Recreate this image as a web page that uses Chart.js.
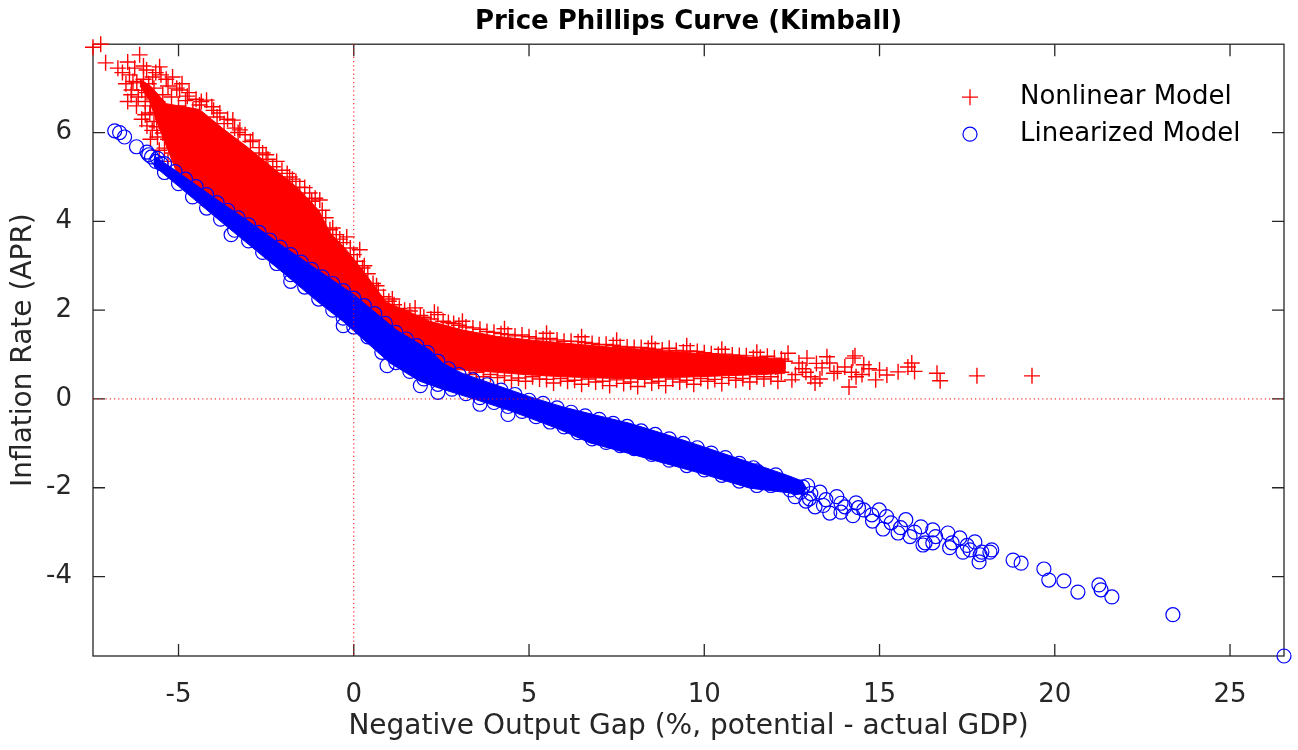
<!DOCTYPE html>
<html>
<head>
<meta charset="utf-8">
<title>Price Phillips Curve (Kimball)</title>
<script src="https://cdn.jsdelivr.net/npm/chart.js@4.4.1/dist/chart.umd.min.js"></script>
<style>
  html, body { margin: 0; padding: 0; background: #fff; }
  #wrap { width: 1298px; height: 750px; }
</style>
</head>
<body>
<div id="wrap"><canvas id="phillips" width="1298" height="750"></canvas></div>
<script>
// --- valeurs ---
const chartTitle = 'Price Phillips Curve (Kimball)';
const xLabel = 'Negative Output Gap (%, potential - actual GDP)';
const yLabel = 'Inflation Rate (APR)';
const seriesNames = ['Nonlinear Model', 'Linearized Model'];

const xTicks = [-5, 0, 5, 10, 15, 20, 25];
const yTicks = [-4, -2, 0, 2, 4, 6];
const xRange = [-7.44, 26.54];
const yRange = [-5.79, 7.99];

// zone pleine ou les + rouges se recouvrent (contour haut puis bas)
const nonlinearCore = [
  [-6.1,7.2],[-5.8,7.05],[-5.35,6.65],[-4.4,6.52],[-3.75,6.1],[-3.0,5.65],[-2.3,5.2],[-1.6,4.75],
  [-1.0,4.25],[-0.68,3.75],[-0.2,3.35],[0.27,2.88],[0.93,2.18],[1.7,1.92],[2.17,1.75],[3.12,1.55],
  [4.07,1.41],[5.02,1.33],[6.93,1.19],[8.83,1.08],[10.73,0.97],[12.3,0.88],
  [12.3,0.58],[11.67,0.55],[9.78,0.5],[7.88,0.45],[5.97,0.5],[5.02,0.54],[4.07,0.6],[3.12,0.65],
  [2.5,0.7],[1.5,1.2],[0,2.0],[-2,3.2],[-4,4.4],[-5,5.0],[-5.5,6.0],[-5.85,6.75],[-6.1,7.05]
];

// zone pleine des cercles bleus
const linearizedCore = [
  [-5.7,5.48],[-5,5.1],[-4,4.54],[-3,4.0],[-2,3.43],[-1,2.89],[0,2.35],[1.22,1.55],[2.17,1.1],
  [2.55,0.8],[3.12,0.57],[4.07,0.31],[5.02,0.05],[5.97,-0.18],[6.93,-0.37],[7.88,-0.55],
  [8.83,-0.78],[9.8,-1.03],[11.0,-1.35],[12.3,-1.7],[12.8,-1.85],
  [12.9,-2.0],[12.8,-2.15],[11.3,-2.01],[9.87,-1.67],[8.0,-1.26],[6.74,-0.99],[5.88,-0.69],
  [5.02,-0.43],[4.36,-0.24],[3.5,-0.02],[2.45,0.24],[1.88,0.4],[1.03,0.81],[-0.31,1.75],
  [-1,2.17],[-2,2.83],[-3,3.48],[-4,4.13],[-5,4.79],[-5.7,5.25]
];

// points isoles / bords du nuage (Nonlinear Model)
const nonlinearPts = [
  [-7.44,7.92],[-7.22,7.99],[-7.08,7.57],[-6.73,7.45],[-6.45,7.59],[-6.11,7.75],[-5.91,7.41],
  [-6.19,7.12],[-6.34,6.96],[-5.74,7.25],[-5.54,7.48],[-5.17,7.25],[-4.97,6.96],[-5.82,6.44],
  [-5.62,6.13],[-5.45,5.99],[-5.17,5.54],[-5.05,5.77],[-4.2,6.73],[-3.82,6.44],[-3.25,6.06],
  [-2.88,5.83],[-2.6,5.54],[-1.83,5.0],[-0.97,4.48],[-0.2,3.65],[0.17,3.36],[-0.68,3.81],
  [-4.59,6.51],[-3.45,6.28],[-2.31,5.23],[-1.54,4.77],[-1.26,4.64],
  [-6.4,7.3],[-6.25,7.45],[-6.0,7.2],[-5.9,6.9],[-5.7,7.0],[-5.6,6.7],[-5.8,6.6],[-5.5,7.3],
  [-5.3,7.05],[-5.2,6.8],[-5.4,6.3],[-5.1,6.2],[-5.3,5.85],[-4.9,7.1],[-4.7,6.9],[-4.5,6.75],
  [-6.05,6.95],[-5.95,6.7],[-5.65,6.45],[-5.5,6.6],[-5.35,6.1],[-5.25,6.45],[-6.3,7.15],
  [-5.85,7.1],[-5.45,6.85],[-5.0,6.6],[-4.85,6.4],[-5.6,5.9],[-5.7,6.25],
  [-6.5,7.1],[-6.15,6.8],[-5.95,6.4],[-5.75,6.05],[-5.4,5.65],[-6.6,7.35],[-6.0,7.5],[-5.65,7.35],
  [-5.35,7.2],[-5.05,7.0],[-4.75,6.82],[-4.35,6.7],[-4.05,6.58],
  [-6.35,6.85],[-6.2,6.6],[-6.05,6.3],[-5.9,6.15],[-5.8,5.85],[-5.55,5.6],[-5.3,5.35],[-6.45,6.7],
  [-4.8,6.72],[-4.4,6.62],[-4.0,6.5],[-3.6,6.3],[-3.1,5.95],[-2.7,5.66],[-2.2,5.35],[-1.9,5.08],
  [-1.4,4.76],[-1.1,4.52],[-0.8,4.08],[-0.5,3.7],[-0.3,3.52],[0.1,3.1],[0.4,2.82],[0.7,2.45],
  [1.0,2.2],[1.3,2.04],[1.6,1.98],[1.9,1.88],[2.2,1.8],[2.4,1.9],[2.7,1.72],[3.0,1.66],
  [3.4,1.6],[3.8,1.52],[4.2,1.47],[4.6,1.42],[5.0,1.4],[5.4,1.35],[5.8,1.33],[6.2,1.3],
  [6.6,1.27],[7.0,1.22],[7.4,1.21],[7.8,1.17],[8.2,1.16],[8.6,1.12],[9.0,1.14],[9.4,1.06],
  [9.8,1.07],[10.2,1.02],[10.6,1.01],[11.0,0.98],[11.4,0.93],[11.8,0.96],[12.2,0.9],
  [-3.9,6.35],[-3.3,6.0],[-2.5,5.5],[-2.05,5.15],[-1.65,4.9],[-0.9,4.25],[-0.4,3.6],[0.0,3.25],
  [0.25,2.95],[0.55,2.6],[0.85,2.3],[1.15,2.12],[1.45,2.0],[2.0,1.84],[2.55,1.75],[2.85,1.7],
  [3.2,1.62],[3.6,1.57],[4.0,1.5],[4.4,1.45],[4.8,1.44],[5.2,1.37],[5.6,1.36],[6.0,1.3],
  [6.4,1.29],[6.8,1.25],[7.2,1.23],[7.6,1.18],[8.0,1.16],[8.4,1.14],[8.8,1.1],[9.2,1.09],
  [9.6,1.08],[10.0,1.04],[10.4,1.0],[10.8,0.99],[11.2,0.97],[11.6,0.94],[12.0,0.92],
  [-3.7,6.2],[-3.4,6.1],[-2.95,5.8],[-2.45,5.4],[-1.75,4.95],[-1.2,4.45],[-0.6,3.85],[-0.1,3.4],
  [0.3,3.0],[0.65,2.55],[1.1,2.25],[1.75,2.05],[2.3,1.95],[3.1,1.75],[4.3,1.58],[5.5,1.48],
  [6.5,1.4],[7.5,1.32],[8.5,1.25],[9.5,1.2],[10.5,1.12],[11.5,1.05],
  [3.3,0.55],[3.7,0.5],[4.1,0.48],[4.5,0.42],[4.9,0.4],[5.3,0.45],[5.7,0.36],[6.1,0.4],
  [6.5,0.33],[6.9,0.38],[7.3,0.3],[7.7,0.35],[8.1,0.28],[8.5,0.36],[8.9,0.3],[9.3,0.38],
  [9.7,0.33],[10.1,0.4],[10.5,0.35],[10.9,0.42],[11.3,0.38],[11.7,0.45],[12.1,0.4],
  [3.5,0.6],[3.9,0.55],[4.3,0.52],[4.7,0.47],[5.1,0.5],[5.5,0.44],[5.9,0.46],[6.3,0.42],
  [6.7,0.45],[7.1,0.4],[7.5,0.43],[7.9,0.38],[8.3,0.44],[8.7,0.4],[9.1,0.45],[9.5,0.42],
  [9.9,0.46],[10.3,0.44],[10.7,0.48],[11.1,0.46],[11.5,0.5],[11.9,0.5],
  [12.04,0.72],[12.39,1.03],[12.5,0.43],[12.7,0.81],[12.93,0.92],[13.04,0.5],[13.16,0.36],
  [13.36,0.7],[13.58,0.81],[13.7,0.58],[14.01,0.72],[14.24,0.92],[14.13,0.27],[14.33,0.5],
  [14.55,0.77],[14.89,0.43],[15.21,0.54],[15.53,0.61],[15.81,0.72],[15.92,0.81],[16.64,0.58],
  [16.73,0.41],[17.78,0.52],[19.35,0.52],
  [12.2,0.6],[12.6,0.55],[12.8,0.68],[13.3,0.45],[13.8,0.62],[14.5,0.55],[13.5,0.95],[12.3,0.85],
  [12.9,0.6],[13.2,0.8],[14.2,0.6],[14.7,0.68],[15.0,0.65],[16.0,0.62],[14.3,0.97]
];

// points isoles / bords du nuage (Linearized Model)
const linearizedPts = [
  [-6.82,6.04],[-6.68,6.0],[-6.54,5.9],[-6.2,5.68],[-5.9,5.56],[-5.77,5.45],[-5.6,5.42],
  [-5.5,5.3],[-5.85,5.5],[-5.65,5.35],
  [-5.4,5.3],[-5.1,5.12],[-4.8,4.95],[-4.5,4.78],[-4.2,4.6],[-3.9,4.42],[-3.6,4.25],[-3.3,4.08],
  [-3.0,3.92],[-2.7,3.75],[-2.4,3.58],[-2.1,3.42],[-1.8,3.25],[-1.5,3.08],[-1.2,2.92],[-0.9,2.75],
  [-0.6,2.6],[-0.3,2.44],[0,2.27],[0.3,2.1],[0.6,1.92],[0.9,1.7],[1.2,1.5],[1.5,1.35],[1.8,1.2],
  [2.1,1.05],[2.4,0.85],[2.7,0.68],[3.0,0.55],[3.4,0.43],[3.8,0.32],[4.2,0.2],[4.6,0.1],
  [5.0,-0.03],[5.4,-0.1],[5.8,-0.2],[6.2,-0.3],[6.6,-0.38],[7.0,-0.46],[7.4,-0.55],[7.8,-0.62],
  [8.2,-0.72],[8.6,-0.8],[9.0,-0.9],[9.4,-1.0],[9.8,-1.1],[10.2,-1.22],[10.6,-1.32],[11.0,-1.45],
  [11.4,-1.55],
  [-5.4,5.1],[-5.0,4.85],[-4.6,4.55],[-4.2,4.3],[-3.8,4.05],[-3.4,3.8],[-3.0,3.56],[-2.6,3.3],
  [-2.2,3.05],[-1.8,2.8],[-1.4,2.52],[-1.0,2.25],[-0.6,2.0],[-0.3,1.82],[0,1.62],[0.4,1.4],
  [0.8,1.05],[1.2,0.82],[1.6,0.62],[2.0,0.45],[2.4,0.33],[2.8,0.22],[3.2,0.12],[3.6,0.03],
  [4.0,-0.08],[4.4,-0.17],[4.8,-0.28],[5.2,-0.4],[5.6,-0.52],[6.0,-0.63],[6.4,-0.76],[6.8,-0.9],
  [7.2,-0.98],[7.6,-1.05],[8.0,-1.12],[8.5,-1.25],[9.0,-1.38],[9.5,-1.5],[10.0,-1.6],[10.5,-1.72],
  [11.0,-1.85],[11.5,-1.95],
  [0.95,0.75],[1.9,0.3],[3.6,-0.12],[4.4,-0.35],[2.4,0.15],[-0.3,1.65],[-1.8,2.65],[-3.5,3.7],
  [11.73,-1.82],[12.04,-1.71],[12.39,-1.9],[12.59,-2.2],[12.81,-1.98],[13.04,-2.13],[13.16,-2.43],
  [13.47,-2.27],[13.58,-2.57],[13.78,-2.2],[14.01,-2.43],[14.24,-2.63],[14.33,-2.34],[14.55,-2.5],
  [14.78,-2.61],[14.99,-2.5],[15.1,-2.93],[15.33,-2.79],[15.53,-3.02],[15.75,-2.72],[15.87,-3.1],
  [16.18,-2.88],[16.3,-3.24],[16.52,-2.95],[16.95,-3.02],[17.07,-3.24],[17.29,-3.13],[17.38,-3.45],
  [17.72,-3.22],[17.84,-3.67],[17.92,-3.45],[18.15,-3.45],[18.81,-3.63],[19.04,-3.7],[19.69,-3.83],
  [19.83,-4.08],[20.26,-4.1],[20.66,-4.35],[21.26,-4.19],[21.32,-4.3],[21.63,-4.46],[23.37,-4.86],
  [26.54,-5.79],
  [11.5,-1.62],[11.9,-1.95],[12.2,-1.85],[12.45,-2.05],[12.9,-2.3],[13.3,-2.1],[13.9,-2.55],
  [16.24,-3.29],[16.52,-3.24],[17.58,-3.4],[17.87,-3.51],[18.2,-3.4],
  [10.0,-1.3],[10.4,-1.45],[10.8,-1.55],[11.2,-1.7],[11.6,-1.8],[12.0,-1.9],[12.6,-2.0],[13.0,-2.25],
  [13.4,-2.4],[13.9,-2.35],[14.4,-2.45],[14.8,-2.75],[15.2,-2.65],[15.6,-2.9],[16.0,-3.0],
  [16.6,-3.1],[17.0,-3.35],[17.5,-3.3],[12.95,-1.95],[12.75,-2.1]
];

const FONT = "'DejaVu Sans', sans-serif";
const INK = '#262626';
const toXY = p => ({ x: p[0], y: p[1] });

// cadre avec graduations vers l'interieur, lignes zero pointillees, legende
const matlabAxes = {
    id: 'matlabAxes',
    beforeDatasetsDraw(chart) {
        const { ctx, chartArea: a, scales: { x, y } } = chart;
        ctx.save();
        ctx.strokeStyle = INK;
        ctx.lineWidth = 1.3;
        ctx.strokeRect(a.left, a.top, a.right - a.left, a.bottom - a.top);
        ctx.beginPath();
        xTicks.forEach(v => {
            const px = x.getPixelForValue(v);
            ctx.moveTo(px, a.bottom); ctx.lineTo(px, a.bottom - 12);
            ctx.moveTo(px, a.top); ctx.lineTo(px, a.top + 12);
        });
        yTicks.forEach(v => {
            const py = y.getPixelForValue(v);
            ctx.moveTo(a.left, py); ctx.lineTo(a.left + 12, py);
            ctx.moveTo(a.right, py); ctx.lineTo(a.right - 12, py);
        });
        ctx.stroke();
        ctx.restore();
    },
    afterDatasetsDraw(chart) {
        const { ctx, chartArea: a, scales: { x, y } } = chart;
        const x0 = x.getPixelForValue(0);
        const y0 = y.getPixelForValue(0);
        ctx.save();
        ctx.strokeStyle = '#ff0000';
        ctx.lineWidth = 1;
        ctx.setLineDash([1.2, 3]);
        ctx.beginPath();
        ctx.moveTo(x0, a.top); ctx.lineTo(x0, a.bottom);
        ctx.moveTo(a.left, y0); ctx.lineTo(a.right, y0);
        ctx.stroke();
        ctx.restore();
    },
    afterDraw(chart) {
        const { ctx, chartArea: a } = chart;
        const mx = a.right - 314, tx = a.right - 264;
        const r1 = a.top + 53, r2 = a.top + 90;
        ctx.save();
        ctx.lineWidth = 1.3;
        ctx.strokeStyle = '#ff0000';
        ctx.beginPath();
        ctx.moveTo(mx - 8, r1); ctx.lineTo(mx + 8, r1);
        ctx.moveTo(mx, r1 - 8); ctx.lineTo(mx, r1 + 8);
        ctx.stroke();
        ctx.strokeStyle = '#0000ff';
        ctx.lineWidth = 1.2;
        ctx.beginPath();
        ctx.arc(mx, r2, 7, 0, Math.PI * 2);
        ctx.stroke();
        ctx.fillStyle = '#000';
        ctx.font = '26px ' + FONT;
        ctx.textBaseline = 'middle';
        ctx.fillText(seriesNames[0], tx, r1);
        ctx.fillText(seriesNames[1], tx, r2);
        ctx.restore();
    }
};

new Chart(document.getElementById('phillips'), {
    type: 'scatter',
    data: {
        datasets: [
            {
                label: seriesNames[1],
                data: linearizedPts.map(toXY),
                pointStyle: 'circle',
                pointRadius: 7,
                pointBorderWidth: 1.2,
                pointBorderColor: '#0000ff',
                pointBackgroundColor: 'rgba(0,0,0,0)',
                clip: false,
                order: 1
            },
            {
                label: 'linearized core',
                type: 'line',
                data: linearizedCore.map(toXY),
                fill: 'shape',
                backgroundColor: '#0000ff',
                borderColor: '#0000ff',
                borderWidth: 1,
                pointRadius: 0,
                tension: 0,
                order: 2
            },
            {
                label: seriesNames[0],
                data: nonlinearPts.map(toXY),
                pointStyle: 'cross',
                pointRadius: 8,
                pointBorderWidth: 1.4,
                pointBorderColor: '#ff0000',
                pointBackgroundColor: '#ff0000',
                clip: false,
                order: 3
            },
            {
                label: 'nonlinear core',
                type: 'line',
                data: nonlinearCore.map(toXY),
                fill: 'shape',
                backgroundColor: '#ff0000',
                borderColor: '#ff0000',
                borderWidth: 1,
                pointRadius: 0,
                tension: 0,
                order: 4
            }
        ]
    },
    options: {
        responsive: false,
        animation: false,
        events: [],
        layout: { padding: { left: 0, right: 14, top: 0, bottom: 0 } },
        plugins: {
            legend: { display: false },
            tooltip: { enabled: false },
            title: {
                display: true,
                text: chartTitle,
                fullSize: false,
                color: '#000',
                font: { family: FONT, size: 26, weight: 'bold', lineHeight: 1.2 },
                padding: { top: 7, bottom: 6 }
            }
        },
        scales: {
            x: {
                type: 'linear',
                min: xRange[0],
                max: xRange[1],
                afterBuildTicks: s => { s.ticks = xTicks.map(v => ({ value: v })); },
                afterFit: s => { s.height = 94; },
                grid: { display: false },
                border: { display: false },
                ticks: { color: INK, font: { family: FONT, size: 26 }, padding: 16, maxRotation: 0, autoSkip: false },
                title: {
                    display: true, text: xLabel, color: INK,
                    font: { family: FONT, size: 28, lineHeight: 1.2 },
                    padding: { top: 0, bottom: 6 }
                }
            },
            y: {
                type: 'linear',
                min: yRange[0],
                max: yRange[1],
                afterBuildTicks: s => { s.ticks = yTicks.map(v => ({ value: v })); },
                afterFit: s => { s.width = 93; },
                grid: { display: false },
                border: { display: false },
                ticks: { color: INK, font: { family: FONT, size: 26 }, padding: 13, autoSkip: false },
                title: {
                    display: true, text: yLabel, color: INK,
                    font: { family: FONT, size: 28, lineHeight: 1.2 },
                    padding: { top: 7, bottom: 0 }
                }
            }
        }
    },
    plugins: [matlabAxes]
});
</script>
</body>
</html>
